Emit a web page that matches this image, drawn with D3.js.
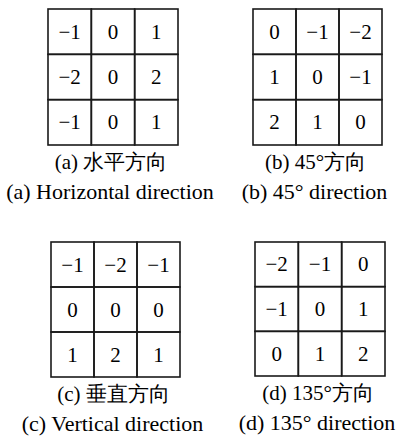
<!DOCTYPE html>
<html>
<head>
<meta charset="utf-8">
<script src="https://cdn.jsdelivr.net/npm/d3@7"></script>
</head>
<body style="margin:0">
<svg id="chart" width="398" height="437"></svg>
<script>
const serif = 'Liberation Serif';

// kernel values, row by row
const horizontal = [[-1, 0, 1], [-2, 0, 2], [-1, 0, 1]];
const diag45 = [[0, -1, -2], [1, 0, -1], [2, 1, 0]];
const vertical = [[-1, -2, -1], [0, 0, 0], [1, 2, 1]];
const diag135 = [[-2, -1, 0], [-1, 0, 1], [0, 1, 2]];

const kernels = [horizontal, diag45, vertical, diag135];
const captionsZh = ['(a) 水平方向', '(b) 45°方向', '(c) 垂直方向', '(d) 135°方向'];
const captionsEn = ['(a) Horizontal direction', '(b) 45° direction', '(c) Vertical direction', '(d) 135° direction'];

// where each grid sits on the page
const boxes = [
  { x: 48, y: 9, w: 130, h: 136 },
  { x: 253, y: 9, w: 129, h: 136 },
  { x: 51, y: 242, w: 129, h: 135 },
  { x: 255, y: 242, w: 130, h: 134 }
];

const numFormat = d => d < 0 ? '\u2212' + (-d) : String(d);

const svg = d3.select('#chart');

kernels.forEach((values, i) => {
  const box = boxes[i];
  const idx = d3.range(3);
  const x = d3.scaleBand().domain(idx).range([box.x, box.x + box.w]);
  const y = d3.scaleBand().domain(idx).range([box.y, box.y + box.h]);

  const cells = values.flatMap((row, r) => row.map((v, c) => ({ r, c, v })));

  svg.selectAll(`rect.k${i}`)
    .data(cells)
    .enter()
    .append('rect')
    .attr('class', `k${i}`)
    .attr('x', d => x(d.c))
    .attr('y', d => y(d.r))
    .attr('width', x.bandwidth())
    .attr('height', y.bandwidth())
    .attr('fill', 'none')
    .attr('stroke', '#1a1a1a')
    .attr('stroke-width', 1.6);

  svg.selectAll(`text.n${i}`)
    .data(cells)
    .enter()
    .append('text')
    .attr('class', `n${i}`)
    .attr('x', d => x(d.c) + x.bandwidth() / 2)
    .attr('y', d => y(d.r) + y.bandwidth() / 2 + 7)
    .attr('text-anchor', 'middle')
    .style('font-family', `"${serif}"`)
    .style('font-size', '21px')
    .text(d => numFormat(d.v));

  const cx = box.x + box.w / 2;
  svg.append('text')
    .attr('x', cx - 2)
    .attr('y', box.y + box.h + 24)
    .attr('text-anchor', 'middle')
    .style('font-family', `"${serif}"`)
    .style('font-size', '21px')
    .text(captionsZh[i]);

  svg.append('text')
    .attr('x', cx - 3)
    .attr('y', box.y + box.h + 54)
    .attr('text-anchor', 'middle')
    .style('font-family', `"${serif}"`)
    .style('font-size', '22px')
    .text(captionsEn[i]);
});
</script>
</body>
</html>
